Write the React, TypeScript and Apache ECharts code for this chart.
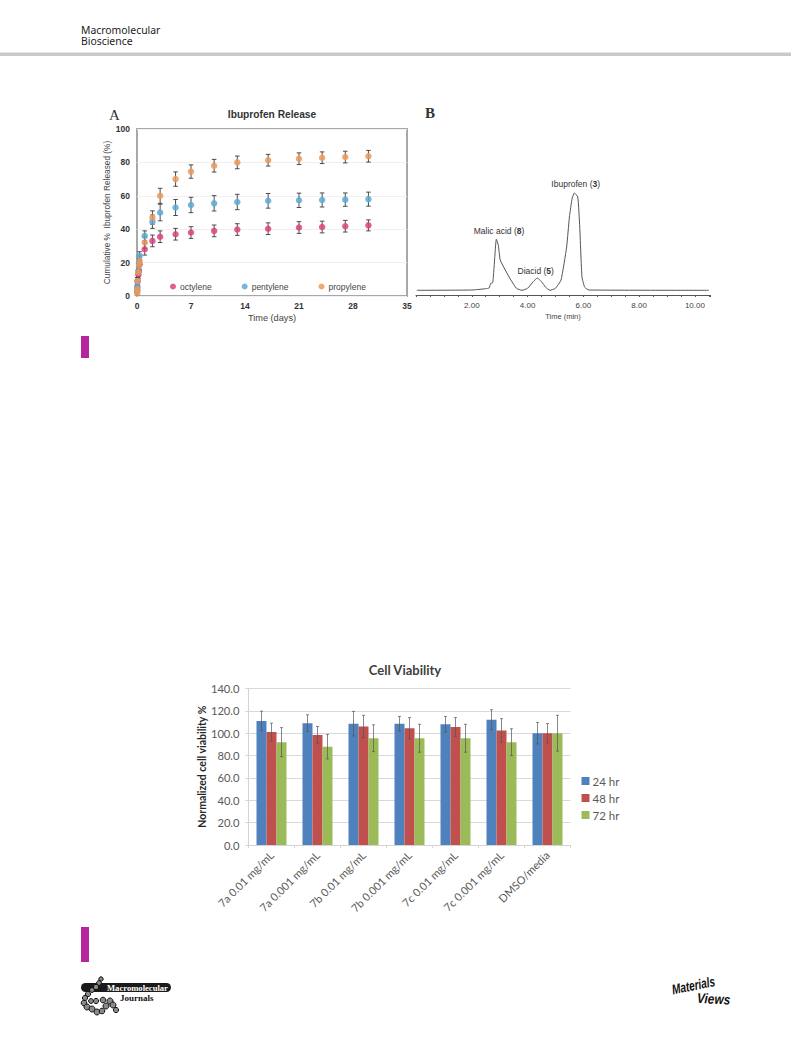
import React, { useEffect, useRef } from "react";
import * as echarts from "echarts";

// Panel A: Ibuprofen release
const releaseDays = [0.02, 0.04, 0.08, 0.17, 0.25, 0.33, 1, 2, 3, 5, 7, 10, 13, 17, 21, 24, 27, 30];
const octylene = [3, 5, 9, 13, 15, 19, 28, 33, 35.5, 37, 38, 39, 39.8, 40.3, 41, 41.3, 41.8, 42.3];
const octyleneErr = [1, 1.5, 2, 2.5, 3, 3, 3.5, 3.5, 3.5, 3.5, 3.5, 3.5, 3.5, 3.5, 3.5, 3.5, 3.5, 3.3];
const pentylene = [3, 6, 9, 15, 20, 24, 36, 44.5, 50, 53, 54.5, 55.5, 56.3, 57, 57.3, 57.5, 57.7, 58];
const pentyleneErr = [1, 1.5, 2, 2.5, 2.5, 2.5, 3, 4, 5, 4.8, 4.6, 4.6, 4.6, 4.4, 4.3, 4.2, 4, 4.2];
const propylene = [1.5, 4, 9, 14, 18, 21, 32, 47, 60, 70, 74.5, 78, 80, 81.3, 82.2, 82.8, 83.2, 83.7];
const propyleneErr = [1, 1.5, 2, 2.5, 3, 3, 3.5, 4, 4.5, 4.3, 4, 3.8, 3.8, 3.5, 3.5, 3.5, 3.5, 3.5];

// Panel B: chromatogram
const traceTime = [0.03, 2.0, 2.5, 2.62, 2.68, 2.75, 2.8, 2.88, 2.95, 3.02, 3.2, 3.4, 3.6, 3.8, 4.0, 4.2, 4.35, 4.5, 4.65, 4.8, 5.0, 5.2, 5.4, 5.5, 5.6, 5.68, 5.8, 5.87, 5.95, 6.05, 6.2, 10.5];
const traceSignal = [4.7, 5, 6.3, 7, 11.7, 12.3, 28, 55.7, 50, 35, 25, 15, 6.7, 4.7, 6.7, 13.3, 17, 13.3, 7.7, 4.7, 6.7, 15, 48, 78, 97, 102, 98, 68, 18, 7.7, 5, 4.7];

// Panel C: cell viability
const cellCategories = ["7a 0.01 mg/mL", "7a 0.001 mg/mL", "7b 0.01 mg/mL", "7b 0.001 mg/mL", "7c 0.01 mg/mL", "7c 0.001 mg/mL", "DMSO/media"];
const hr24 = [111, 109, 108.5, 108.5, 108, 112, 100];
const hr48 = [101, 98.5, 106, 104.5, 105.5, 102.5, 100];
const hr72 = [92, 88, 95.5, 95.5, 95.5, 92, 100];
const hr24Err = [8.7, 7.5, 11, 6.5, 7, 9, 9.6];
const hr48Err = [8, 7.5, 10, 9.5, 8.5, 10.5, 8.7];
const hr72Err = [13, 11, 12, 12.5, 12.5, 12, 16];

const SANS = "Liberation Sans";
const NOTO = "Noto Sans";
const SERIF = "Liberation Serif";
const CALIBRI = "Lato";

const zipPoints = (xs: number[], ys: number[]) => xs.map((x, i) => [x, ys[i]]);

const whiskerRenderer = (cap: number, color: string, width: number, offset = 0) => (_p: any, api: any) => {
  const lo = api.coord([api.value(0), api.value(1)]);
  const hi = api.coord([api.value(0), api.value(2)]);
  const x = lo[0] + offset;
  const style = { stroke: color, lineWidth: width, fill: "none" };
  return {
    type: "group",
    silent: true,
    children: [
      { type: "line", shape: { x1: x, y1: lo[1], x2: x, y2: hi[1] }, style },
      { type: "line", shape: { x1: x - cap, y1: lo[1], x2: x + cap, y2: lo[1] }, style },
      { type: "line", shape: { x1: x - cap, y1: hi[1], x2: x + cap, y2: hi[1] }, style },
    ],
  };
};

const releaseSeries = (name: string, ys: number[], errs: number[], color: string) => [
  {
    type: "custom",
    name: name + " error",
    xAxisIndex: 0,
    yAxisIndex: 0,
    z: 3,
    clip: false,
    renderItem: whiskerRenderer(2.3, "#3a3a3a", 0.9),
    encode: { x: 0, y: [1, 2] },
    data: releaseDays.map((t, i) => [t, ys[i] - errs[i], ys[i] + errs[i]]),
  },
  {
    type: "scatter",
    name,
    xAxisIndex: 0,
    yAxisIndex: 0,
    z: 4,
    symbol: "circle",
    symbolSize: 6.5,
    clip: false,
    itemStyle: { color, opacity: 0.85 },
    data: zipPoints(releaseDays, ys),
  },
];

const cellSeries = (name: string, ys: number[], errs: number[], color: string, offset: number) => [
  {
    type: "bar",
    name,
    xAxisIndex: 2,
    yAxisIndex: 2,
    barWidth: 10,
    barGap: "0%",
    itemStyle: { color },
    data: ys,
  },
  {
    type: "custom",
    name: name + " error",
    xAxisIndex: 2,
    yAxisIndex: 2,
    z: 5,
    renderItem: whiskerRenderer(1.5, "#555555", 0.7, offset),
    encode: { x: 0, y: [1, 2] },
    data: ys.map((v, i) => [i, v - errs[i], v + errs[i]]),
  },
];

const plainText = (text: string, x: number, y: number, font: any, extra: any = {}) => ({
  type: "text",
  x,
  y,
  silent: true,
  ...extra,
  style: { text, fill: "#333333", textAlign: "left", textVerticalAlign: "middle", ...font },
});

const compoundLabel = (name: string, num: string, x: number, y: number) => ({
  type: "text",
  x,
  y,
  silent: true,
  style: {
    text: `{a|${name} (}{b|${num}}{a|)}`,
    textAlign: "center",
    textVerticalAlign: "middle",
    rich: {
      a: { fontFamily: SANS, fontSize: 8.5, fill: "#333333", color: "#333333" },
      b: { fontFamily: SANS, fontSize: 8.5, fontWeight: "bold", fill: "#333333", color: "#333333" },
    },
  },
});

const logoBlobs = [
  [101, 979, 2.2], [99, 983, 2.4], [96, 987, 2.6], [92, 990, 2.4], [88, 994, 2.6], [85, 998, 2.6],
  [84, 1003, 2.8], [87, 1007, 3], [92, 1009, 3], [97, 1012, 3], [102, 1011, 2.8], [106, 1006, 3],
  [110, 1001, 3], [113, 1005, 3], [116, 1010, 2.6], [103, 1000, 2.8], [96, 1001, 2.6], [91, 1001, 2.4],
];

const decor = [
  { type: "rect", shape: { x: 0, y: 52.5, width: 791, height: 3.4 }, style: { fill: "#c9c9c9" }, silent: true },
  plainText("Macromolecular\nBioscience", 81, 35.7, { fontFamily: NOTO, fontSize: 10.4, lineHeight: 11.4, fill: "#222222" }),
  plainText("A", 109, 115, { fontFamily: SERIF, fontSize: 15, fill: "#333333" }),
  plainText("B", 425, 113, { fontFamily: SERIF, fontSize: 15, fontWeight: "bold", fill: "#333333" }),
  { type: "rect", shape: { x: 81, y: 336, width: 8, height: 22 }, style: { fill: "#b5259b" }, silent: true },
  { type: "rect", shape: { x: 81, y: 927, width: 8, height: 35 }, style: { fill: "#b5259b" }, silent: true },
  compoundLabel("Ibuprofen", "3", 575.7, 184),
  compoundLabel("Malic acid", "8", 499, 231),
  compoundLabel("Diacid", "5", 535.7, 271),
  { type: "rect", shape: { x: 81, y: 983, width: 90, height: 9, r: 4.5 }, style: { fill: "#1a1a1a" }, silent: true },
  ...logoBlobs.map(([cx, cy, r]) => ({
    type: "circle",
    shape: { cx, cy, r },
    silent: true,
    style: { fill: "#8a8a8a", stroke: "#111111", lineWidth: 1 },
  })),
  plainText("Macromolecular", 107, 987.6, { fontFamily: SERIF, fontSize: 8.6, fontWeight: "bold", fill: "#ffffff" }),
  plainText("Journals", 120, 997.5, { fontFamily: SERIF, fontSize: 9, fontWeight: "bold", fill: "#111111" }),
  plainText("Materials", 672, 990, { fontFamily: SANS, fontSize: 14, fontStyle: "italic", fontWeight: "bold", fill: "#111111" }, { rotation: 0.2, scaleX: 0.72 }),
  plainText("Views", 697, 998, { fontFamily: SANS, fontSize: 14, fontStyle: "italic", fontWeight: "bold", fill: "#111111" }, { rotation: -0.05, scaleX: 0.85 }),
];

const option: any = {
  animation: false,
  backgroundColor: "#ffffff",
  title: [
    {
      text: "Ibuprofen Release",
      left: 272,
      top: 109,
      padding: 0,
      textAlign: "center",
      textStyle: { fontFamily: SANS, fontSize: 10.2, fontWeight: "bold", color: "#333333" },
    },
    {
      text: "Cell Viability",
      left: 405,
      top: 663,
      padding: 0,
      textAlign: "center",
      textStyle: { fontFamily: CALIBRI, fontSize: 13, fontWeight: "bold", color: "#404040" },
    },
  ],
  legend: [
    {
      data: ["octylene", "pentylene", "propylene"],
      left: 170,
      top: 282,
      itemWidth: 6,
      itemHeight: 6,
      itemGap: 30,
      padding: 0,
      icon: "circle",
      textStyle: { fontFamily: SANS, fontSize: 8.5, color: "#444444", padding: [0, 0, 0, -1] },
    },
    {
      data: ["24 hr", "48 hr", "72 hr"],
      orient: "vertical",
      left: 581.5,
      top: 775,
      itemWidth: 8,
      itemHeight: 8,
      itemGap: 5,
      padding: 0,
      icon: "rect",
      textStyle: { fontFamily: CALIBRI, fontSize: 11.5, color: "#595959", padding: [0, 0, 0, -2] },
    },
  ],
  grid: [
    { left: 137, top: 129, width: 270, height: 167, show: true, borderColor: "#a8a8a8", borderWidth: 2, backgroundColor: "transparent" },
    { left: 416, top: 190, width: 294, height: 105 },
    { left: 248.5, top: 688.5, width: 322, height: 156.5 },
  ],
  xAxis: [
    {
      gridIndex: 0,
      type: "value",
      min: 0,
      max: 35,
      interval: 7,
      name: "Time (days)",
      nameLocation: "middle",
      nameGap: 17,
      nameTextStyle: { fontFamily: SANS, fontSize: 9.2, color: "#444444" },
      axisLine: { show: false },
      axisTick: { show: false },
      splitLine: { show: false },
      axisLabel: { fontFamily: SANS, fontSize: 8.5, fontWeight: "bold", color: "#333333", margin: 5 },
    },
    {
      gridIndex: 1,
      type: "value",
      min: 0,
      max: 10.54,
      interval: 2,
      name: "Time (min)",
      nameLocation: "middle",
      nameGap: 17,
      nameTextStyle: { fontFamily: SANS, fontSize: 7.5, color: "#444444" },
      axisLine: { onZero: false, lineStyle: { color: "#555555", width: 1 } },
      axisTick: { length: 2, lineStyle: { color: "#555555" } },
      minorTick: { show: true, splitNumber: 4, length: 2, lineStyle: { color: "#555555" } },
      splitLine: { show: false },
      minorSplitLine: { show: false },
      axisLabel: {
        fontFamily: SANS,
        fontSize: 8,
        color: "#444444",
        margin: 6,
        showMinLabel: false,
        showMaxLabel: false,
        formatter: (v: number) => v.toFixed(2),
      },
    },
    {
      gridIndex: 2,
      type: "category",
      data: cellCategories,
      axisLine: { lineStyle: { color: "#d4d4d4", width: 1 } },
      axisTick: { show: true, length: 3, alignWithLabel: false, lineStyle: { color: "#d4d4d4" } },
      axisLabel: { fontFamily: CALIBRI, fontSize: 11, color: "#595959", rotate: 45, margin: 8, interval: 0 },
    },
  ],
  yAxis: [
    {
      gridIndex: 0,
      type: "value",
      min: 0,
      max: 100,
      interval: 20,
      name: "Cumulative %  Ibuprofen Released (%)",
      nameLocation: "middle",
      nameGap: 26,
      nameTextStyle: { fontFamily: SANS, fontSize: 8.3, color: "#444444" },
      axisLine: { show: false },
      axisTick: { show: false },
      splitLine: { lineStyle: { color: "#f0f0f0", width: 1 } },
      axisLabel: { fontFamily: SANS, fontSize: 8.5, fontWeight: "bold", color: "#333333", margin: 7 },
    },
    {
      gridIndex: 1,
      type: "value",
      min: 0,
      max: 105,
      show: false,
      splitLine: { show: false },
    },
    {
      gridIndex: 2,
      type: "value",
      min: 0,
      max: 140,
      interval: 20,
      name: "Normalized cell viability %",
      nameLocation: "middle",
      nameGap: 36,
      nameTextStyle: { fontFamily: CALIBRI, fontSize: 10.5, fontWeight: "bold", color: "#262626" },
      axisLine: { show: true, lineStyle: { color: "#d4d4d4", width: 1 } },
      axisTick: { show: true, length: 3, lineStyle: { color: "#d4d4d4" } },
      splitLine: { lineStyle: { color: "#d9d9d9", width: 1 } },
      axisLabel: { fontFamily: CALIBRI, fontSize: 11.2, color: "#595959", margin: 9, formatter: (v: number) => v.toFixed(1) },
    },
  ],
  series: [
    ...releaseSeries("octylene", octylene, octyleneErr, "#d9437f"),
    ...releaseSeries("pentylene", pentylene, pentyleneErr, "#5ea9d3"),
    ...releaseSeries("propylene", propylene, propyleneErr, "#ea9a5c"),
    {
      type: "line",
      name: "chromatogram",
      xAxisIndex: 1,
      yAxisIndex: 1,
      showSymbol: false,
      symbol: "none",
      smooth: 0.15,
      lineStyle: { color: "#555555", width: 1 },
      data: zipPoints(traceTime, traceSignal),
    },
    ...cellSeries("24 hr", hr24, hr24Err, "#4f81bd", -10),
    ...cellSeries("48 hr", hr48, hr48Err, "#c0504d", 0),
    ...cellSeries("72 hr", hr72, hr72Err, "#9bbb59", 10),
  ],
  graphic: decor,
};

export default function App() {
  const ref = useRef<HTMLDivElement>(null);
  useEffect(() => {
    const chart = echarts.init(ref.current!, undefined, { renderer: "svg" });
    chart.setOption(option);
    return () => chart.dispose();
  }, []);
  return <div ref={ref} style={{ position: "absolute", left: 0, top: 0, width: 791, height: 1043 }} />;
}
